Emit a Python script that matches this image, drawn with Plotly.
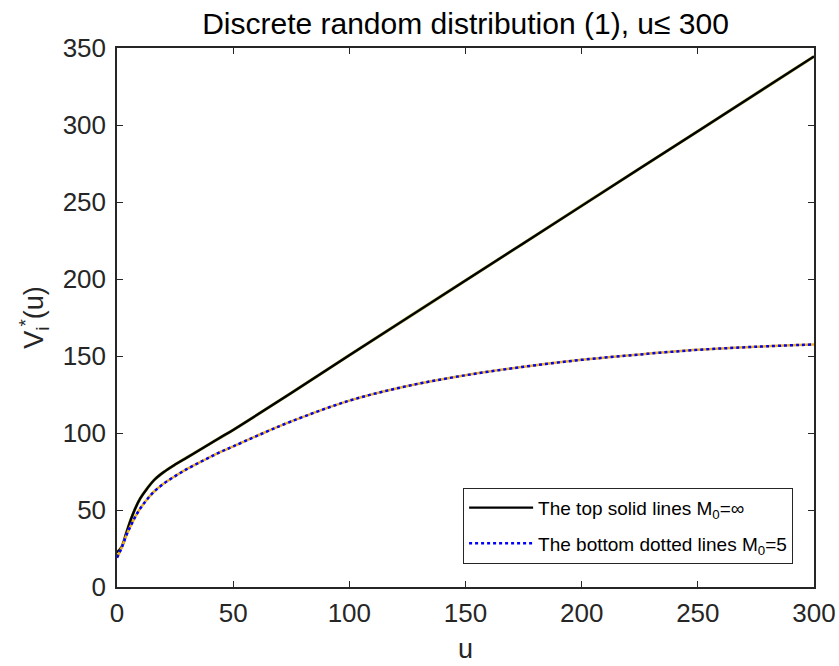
import plotly.graph_objects as go

# Top solid curve (M0 = infinity)
u_top = [0, 2, 4, 6, 8, 10, 13, 16, 20, 25, 30, 35, 40, 45, 50, 60, 75, 100, 150, 200, 250, 300]
v_top = [22.5, 26, 35, 44, 51.5, 57.5, 64, 69.5, 74.5, 79.5, 84, 88.5, 93, 97.5, 102, 111.5, 126, 150.5, 199, 247.5, 296, 344.5]

# Bottom dotted curve (M0 = 5)
u_bot = [0, 2, 4, 6, 8, 10, 13, 16, 20, 25, 30, 35, 40, 45, 50, 60, 75, 100, 125, 150, 175, 200, 225, 250, 275, 300]
v_bot = [19, 25.5, 33.5, 40, 46, 51, 57, 62, 67, 72, 76.5, 80.5, 84.3, 88, 91.3, 98, 107.5, 121, 130.5, 137.5, 143, 147.5, 151, 154, 156, 157.5]

x_ticks = [0, 50, 100, 150, 200, 250, 300]
y_ticks = [0, 50, 100, 150, 200, 250, 300, 350]

FONT = "Liberation Sans, Arial, sans-serif"

fig = go.Figure()
fig.add_trace(go.Scatter(x=u_top, y=v_top, mode="lines", line=dict(color="#9a9a30", width=3, shape="spline"),
                         showlegend=False, hoverinfo="skip"))
fig.add_trace(go.Scatter(x=u_top, y=v_top, mode="lines", line=dict(color="black", width=2.3, shape="spline"),
                         name="The top solid lines M<sub>0</sub>=∞", legendgroup="a"))
fig.add_trace(go.Scatter(x=u_bot, y=v_bot, mode="lines", line=dict(color="#EDB120", width=2.5, shape="spline"),
                         showlegend=False, hoverinfo="skip"))
fig.add_trace(go.Scatter(x=u_bot, y=v_bot, mode="lines", line=dict(color="blue", width=2.5, dash="dot", shape="spline"),
                         name="The bottom dotted lines M<sub>0</sub>=5", legendgroup="b"))

axis_common = dict(showline=True, linecolor="#262626", linewidth=1.5, mirror="ticks",
                   ticks="inside", ticklen=6, tickwidth=1.2, tickcolor="#262626",
                   showgrid=False, zeroline=False, automargin=False,
                   tickfont=dict(family=FONT, size=26, color="#262626"))

fig.update_layout(
    width=839, height=666,
    margin=dict(l=117, r=25, t=48, b=79, autoexpand=False),
    paper_bgcolor="white", plot_bgcolor="white",
    title=dict(text="Discrete random distribution (1), u≤ 300", x=0.5, xanchor="center",
               xref="paper", y=0.981, yanchor="top",
               font=dict(family=FONT, size=30, color="black")),
    xaxis=dict(range=[0, 300], tickvals=x_ticks, ticktext=[str(t) for t in x_ticks],
               ticklabelstandoff=2,
               title=dict(text="u", standoff=12, font=dict(family=FONT, size=27, color="#262626")),
               **axis_common),
    yaxis=dict(range=[0, 350], tickvals=y_ticks, ticktext=[str(t) for t in y_ticks],
               ticklabelstandoff=4,
               title=dict(text="V<sub>i</sub><sup>*</sup>(u)", standoff=11,
                          font=dict(family=FONT, size=27, color="#262626")),
               **axis_common),
    legend=dict(x=0.97, y=0.043, xanchor="right", yanchor="bottom",
                bgcolor="white", bordercolor="#262626", borderwidth=1,
                font=dict(family=FONT, size=19, color="black"),
                itemwidth=64, tracegroupgap=8),
    showlegend=True,
)

fig.write_html("out.html", config={"displayModeBar": False},
               post_script="document.body.style.margin='0';document.body.style.overflow='hidden';")
